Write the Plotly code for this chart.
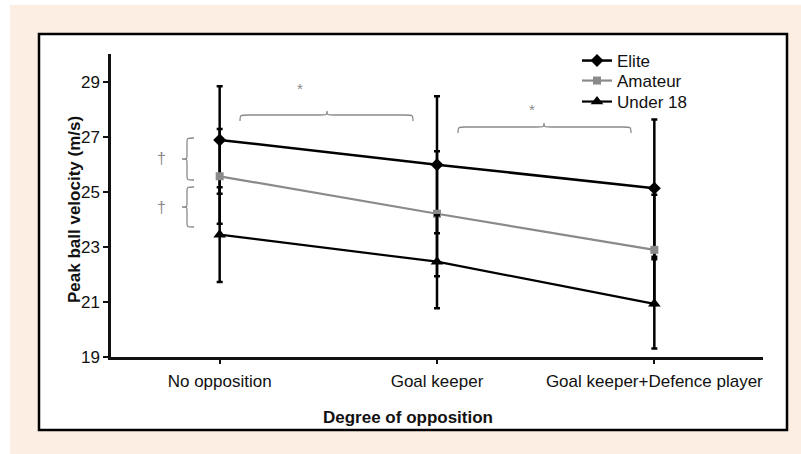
import plotly.graph_objects as go

# ---- data ----
categories = ["No opposition", "Goal keeper", "Goal keeper+Defence player"]
elite = [26.88, 25.98, 25.13]
elite_sd = [1.95, 2.49, 2.49]
amateur = [25.56, 24.20, 22.89]
amateur_sd = [1.72, 2.27, 2.00]
under18 = [23.44, 22.46, 20.93]
under18_sd = [1.72, 1.69, 1.62]
y_ticks = [19, 21, 23, 25, 27, 29]

# ---- layout geometry (pixels) ----
FW, FH = 801, 454
L, R, T, B = 111, 763, 54, 357
PW, PH = R - L, B - T
PEACH = "#fdeee3"
GREY = "#8a8a8a"
FONT = "Liberation Sans, Arial, sans-serif"
FS = 17


def px(x):
    return (x - L) / PW


def py(y):
    return (B - y) / PH


def P(x, y):
    return f"{px(x):.5f},{py(y):.5f}"


def vbrace(x_tip, x_spine, x_end, y_top, y_mid, y_bot, q=4):
    return (f"M{P(x_end, y_top)} C{P(x_spine, y_top)} {P(x_spine, y_top)} {P(x_spine, y_top + q)} "
            f"L{P(x_spine, y_mid - q)} C{P(x_spine, y_mid)} {P(x_spine, y_mid)} {P(x_tip, y_mid)} "
            f"C{P(x_spine, y_mid)} {P(x_spine, y_mid)} {P(x_spine, y_mid + q)} "
            f"L{P(x_spine, y_bot - q)} C{P(x_spine, y_bot)} {P(x_spine, y_bot)} {P(x_end, y_bot)}")


def hbrace(x_left, x_mid, x_right, y_end, y_spine, y_tip, q=8):
    return (f"M{P(x_left, y_end)} C{P(x_left, y_spine)} {P(x_left, y_spine)} {P(x_left + q, y_spine)} "
            f"L{P(x_mid - q, y_spine)} C{P(x_mid, y_spine)} {P(x_mid, y_spine)} {P(x_mid, y_tip)} "
            f"C{P(x_mid, y_spine)} {P(x_mid, y_spine)} {P(x_mid + q, y_spine)} "
            f"L{P(x_right - q, y_spine)} C{P(x_right, y_spine)} {P(x_right, y_spine)} {P(x_right, y_end)}")


fig = go.Figure()

series = [
    ("Elite", elite, elite_sd, "black", "diamond", 10, 2.5, "legend", 60),
    ("Amateur", amateur, amateur_sd, GREY, "square", 8, 2.2, "legend2", 80),
    ("Under 18", under18, under18_sd, "black", "triangle-up", 11, 2.2, "legend3", 101),
]
legends = {}
for name, vals, sd, col, sym, msize, lw, leg, ly in series:
    fig.add_trace(go.Scatter(
        x=categories, y=vals, name=name, mode="lines+markers",
        line=dict(color=col, width=lw),
        marker=dict(symbol=sym, size=msize, color=col),
        error_y=dict(type="data", array=sd, visible=True, color="black",
                     thickness=2.5, width=3),
        legend=leg,
    ))
    legends[leg] = dict(x=px(577), y=py(ly - 17), xanchor="left", yanchor="top",
                        bgcolor="rgba(0,0,0,0)", itemwidth=30,
                        font=dict(size=FS, family=FONT, color="#111"))

shapes = [
    dict(type="rect", xref="paper", yref="paper", x0=px(0), x1=px(FW), y0=py(0), y1=py(5),
         fillcolor="white", line=dict(width=0), layer="below"),
    dict(type="rect", xref="paper", yref="paper", x0=px(0), x1=px(10), y0=py(0), y1=py(FH),
         fillcolor="white", line=dict(width=0), layer="below"),
    dict(type="rect", xref="paper", yref="paper", x0=px(39), x1=px(787), y0=py(34), y1=py(430),
         fillcolor="white", line=dict(color="black", width=2.5), layer="below"),
    dict(type="path", xref="paper", yref="paper", path=vbrace(182, 187, 194, 138, 159, 180),
         line=dict(color=GREY, width=1.3)),
    dict(type="path", xref="paper", yref="paper", path=vbrace(182, 187, 194, 187, 207, 227),
         line=dict(color=GREY, width=1.3)),
    dict(type="path", xref="paper", yref="paper", path=hbrace(240, 327, 413, 121, 115, 111),
         line=dict(color=GREY, width=1.3)),
    dict(type="path", xref="paper", yref="paper", path=hbrace(458, 544, 631, 133, 127, 123),
         line=dict(color=GREY, width=1.3)),
]


def ann(text, x, y, size, color, angle=0):
    return dict(text=text, x=px(x), y=py(y), xref="paper", yref="paper", showarrow=False,
                xanchor="center", yanchor="middle", textangle=angle,
                font=dict(size=size, color=color, family=FONT))


annotations = [
    ann("†", 161, 158, 16, GREY),
    ann("†", 161, 207, 16, GREY),
    ann("*", 300, 89, 15, GREY),
    ann("*", 532, 109, 15, GREY),
    ann("<b>Degree of opposition</b>", 408, 418, FS, "#111"),
    ann("<b>Peak ball velocity (m/s)</b>", 74, 210, FS, "#111", -90),
]

fig.update_layout(
    width=FW, height=FH,
    margin=dict(l=L, r=FW - R, t=T, b=FH - B, pad=0),
    paper_bgcolor=PEACH, plot_bgcolor="rgba(0,0,0,0)",
    font=dict(family=FONT, size=FS, color="#111"),
    shapes=shapes, annotations=annotations,
    showlegend=True,
    xaxis=dict(type="category", range=[-0.5, 2.5], showline=True, linecolor="#111", linewidth=2.5,
               ticks="outside", ticklen=4, tickwidth=2, tickcolor="#111", showgrid=False,
               zeroline=False, tickfont=dict(size=FS), ticklabelstandoff=3),
    yaxis=dict(range=[19, 30], tickvals=y_ticks, showline=True, linecolor="#111", linewidth=2.5,
               ticks="outside", ticklen=5, tickwidth=2, tickcolor="#111", showgrid=False,
               zeroline=False, tickfont=dict(size=FS)),
    **legends,
)

fig.write_html("out.html", config={"displayModeBar": False},
               post_script="document.body.style.margin='0';")
